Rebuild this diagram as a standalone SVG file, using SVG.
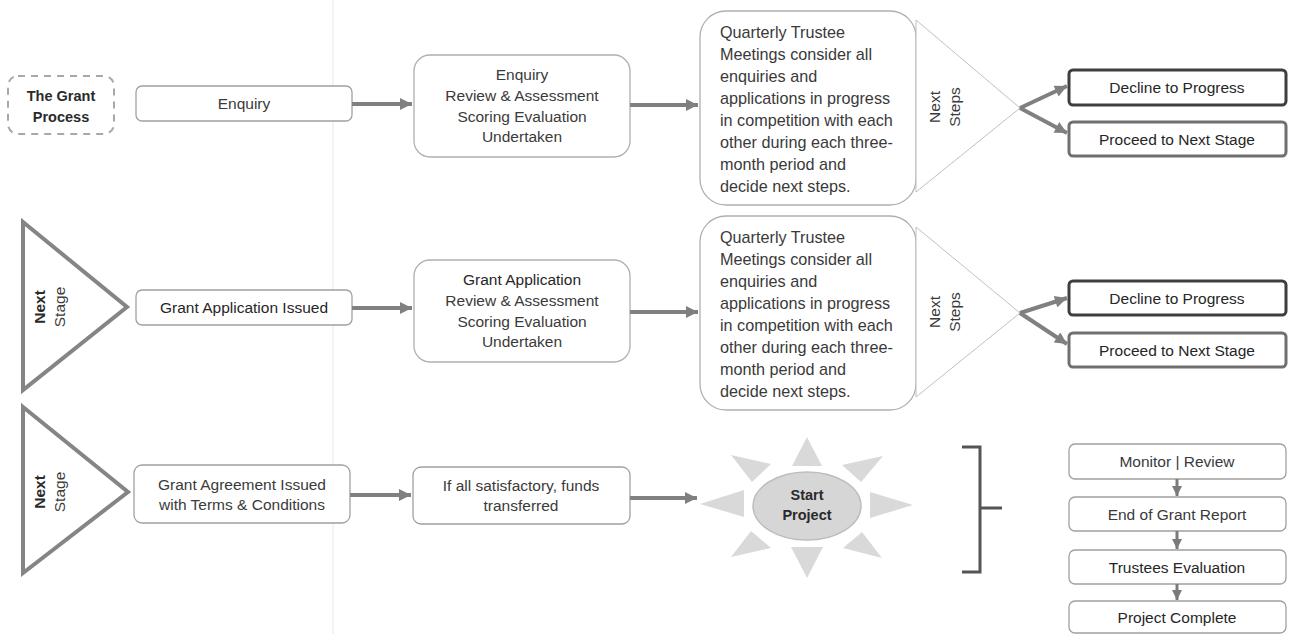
<svg xmlns="http://www.w3.org/2000/svg" width="1295" height="634" viewBox="0 0 1295 634">
<defs>
<marker id="ah" viewBox="0 0 10 10" refX="10" refY="5" markerWidth="13" markerHeight="12" markerUnits="userSpaceOnUse" orient="auto"><path d="M0,0 L10,5 L0,10 z" fill="#808080"/></marker>
<marker id="ahs" viewBox="0 0 10 10" refX="10" refY="5" markerWidth="10" markerHeight="10" markerUnits="userSpaceOnUse" orient="auto"><path d="M0,0 L10,5 L0,10 z" fill="#7a7a7a"/></marker>
</defs>
<style>
text{font-family:"Liberation Sans",Arial,sans-serif;font-size:15.5px;fill:#3a3a3a}
.c{text-anchor:middle}
.b{font-weight:bold;fill:#2a2a2a}
.t{font-size:14.5px}
.q{font-size:16.2px}
.d{fill:#262626}
.box{fill:#fff;stroke:#a0a0a0;stroke-width:1.3}
.big{fill:#fff;stroke:#b0b0b0;stroke-width:1.3}
.dash{fill:#fff;stroke:#a8a8a8;stroke-width:2;stroke-dasharray:7 6}
.ltri{fill:#fff;stroke:#858585;stroke-width:4;stroke-linejoin:miter}
.rtri{fill:#fff;stroke:#c0c0c0;stroke-width:1}
.dec{fill:#fff;stroke:#3e3e3e;stroke-width:3}
.pro{fill:#fff;stroke:#707070;stroke-width:3}
.con{stroke:#808080;stroke-width:4;fill:none;marker-end:url(#ah)}
.sm{stroke:#7a7a7a;stroke-width:3;fill:none;marker-end:url(#ahs)}
.ray{fill:#d9d9d9;stroke:none}
</style>
<rect width="1295" height="634" fill="#fff"/>
<line x1="333" y1="0" x2="333" y2="634" stroke="#f3f3f3" stroke-width="2"/>

<!-- Row 1 -->
<g id="grant-process"><rect class="dash" x="8" y="76" width="106" height="58" rx="10"/><text class="c b t" x="61" y="101">The Grant</text><text class="c b t" x="61" y="122">Process</text></g>
<g id="enquiry"><rect class="box" x="136" y="86" width="216" height="35" rx="6"/><text class="c" x="244" y="109">Enquiry</text></g>
<g id="review1"><rect class="big" x="414" y="55" width="216" height="102" rx="16"/><text class="c" x="522" y="80">Enquiry</text><text class="c" x="522" y="101">Review &amp; Assessment</text><text class="c" x="522" y="122">Scoring Evaluation</text><text class="c" x="522" y="142">Undertaken</text></g>
<g id="quarterly1"><rect class="big" x="700" y="11" width="216" height="194" rx="26"/>
<text class="q" x="720" y="38">Quarterly Trustee</text><text class="q" x="720" y="60">Meetings consider all</text><text class="q" x="720" y="82">enquiries and</text><text class="q" x="720" y="104">applications in progress</text><text class="q" x="720" y="126">in competition with each</text><text class="q" x="720" y="148">other during each three-</text><text class="q" x="720" y="170">month period and</text><text class="q" x="720" y="192">decide next steps.</text></g>
<g id="nextsteps1"><polygon class="rtri" points="916,20 1020,108 916,192"/><text class="c" transform="translate(945,107) rotate(-90)"><tspan x="0" y="-5">Next</tspan><tspan x="0" y="15">Steps</tspan></text></g>
<g id="decline1"><rect class="dec" x="1069" y="70" width="217" height="35" rx="4"/><text class="c d" x="1177" y="93">Decline to Progress</text></g>
<g id="proceed1"><rect class="pro" x="1069" y="122" width="217" height="34" rx="4"/><text class="c d" x="1177" y="145">Proceed to Next Stage</text></g>

<!-- Row 2 -->
<g id="nextstage2"><polygon class="ltri" points="23,222 127,307 23,390"/><text class="c" transform="translate(50,307) rotate(-90)"><tspan class="b" x="0" y="-5">Next</tspan><tspan x="0" y="15">Stage</tspan></text></g>
<g id="application"><rect class="box" x="136" y="290" width="216" height="35" rx="6"/><text class="c d" x="244" y="313">Grant Application Issued</text></g>
<g id="review2"><rect class="big" x="414" y="260" width="216" height="102" rx="16"/><text class="c d" x="522" y="285">Grant Application</text><text class="c" x="522" y="306">Review &amp; Assessment</text><text class="c" x="522" y="327">Scoring Evaluation</text><text class="c" x="522" y="347">Undertaken</text></g>
<g id="quarterly2"><rect class="big" x="700" y="216" width="216" height="194" rx="26"/>
<text class="q" x="720" y="243">Quarterly Trustee</text><text class="q" x="720" y="265">Meetings consider all</text><text class="q" x="720" y="287">enquiries and</text><text class="q" x="720" y="309">applications in progress</text><text class="q" x="720" y="331">in competition with each</text><text class="q" x="720" y="353">other during each three-</text><text class="q" x="720" y="375">month period and</text><text class="q" x="720" y="397">decide next steps.</text></g>
<g id="nextsteps2"><polygon class="rtri" points="916,227 1020,313 916,397"/><text class="c" transform="translate(945,312) rotate(-90)"><tspan x="0" y="-5">Next</tspan><tspan x="0" y="15">Steps</tspan></text></g>
<g id="decline2"><rect class="dec" x="1069" y="281" width="217" height="34" rx="4"/><text class="c d" x="1177" y="304">Decline to Progress</text></g>
<g id="proceed2"><rect class="pro" x="1069" y="333" width="217" height="34" rx="4"/><text class="c d" x="1177" y="356">Proceed to Next Stage</text></g>

<!-- Row 3 -->
<g id="nextstage3"><polygon class="ltri" points="23,407 128,492 23,573"/><text class="c" transform="translate(50,492) rotate(-90)"><tspan class="b" x="0" y="-5">Next</tspan><tspan x="0" y="15">Stage</tspan></text></g>
<g id="agreement"><rect class="box" x="134" y="465" width="216" height="58" rx="8"/><text class="c" x="242" y="490">Grant Agreement Issued</text><text class="c" x="242" y="510">with Terms &amp; Conditions</text></g>
<g id="funds"><rect class="box" x="413" y="467" width="217" height="57" rx="8"/><text class="c" x="521" y="491">If all satisfactory, funds</text><text class="c" x="521" y="511">transferred</text></g>
<g id="start-project">
<polygon class="ray" points="807,437 792,466 822,466"/>
<polygon class="ray" points="807,578 791,547 823,547"/>
<polygon class="ray" points="700,504 744,490 744,517"/>
<polygon class="ray" points="913,505 870,492 870,518"/>
<polygon class="ray" points="731,455 752,482 771,464"/>
<polygon class="ray" points="883,456 842,465 861,482"/>
<polygon class="ray" points="731,557 751,531 771,548"/>
<polygon class="ray" points="882,558 843,548 862,532"/>
<ellipse cx="807" cy="506" rx="54" ry="34" fill="#d6d6d6" stroke="#bdbdbd" stroke-width="1.5"/>
<text class="c b t" x="807" y="500">Start</text><text class="c b t" x="807" y="520">Project</text></g>
<g id="bracket"><path d="M962,447 H980 V572 H962 M980,508 H1002" fill="none" stroke="#555" stroke-width="3"/></g>
<g id="monitor"><rect class="box" x="1069" y="444" width="217" height="35" rx="6"/><text class="c" x="1177" y="467">Monitor | Review</text></g>
<g id="endreport"><rect class="box" x="1069" y="497" width="217" height="34" rx="6"/><text class="c" x="1177" y="520">End of Grant Report</text></g>
<g id="trustees"><rect class="box" x="1069" y="550" width="217" height="34" rx="6"/><text class="c d" x="1177" y="573">Trustees Evaluation</text></g>
<g id="complete"><rect class="box" x="1069" y="601" width="217" height="32" rx="6"/><text class="c d" x="1177" y="623">Project Complete</text></g>

<g id="connectors">
<line class="con" x1="352" y1="104" x2="412" y2="104"/>
<line class="con" x1="630" y1="105" x2="698" y2="105"/>
<line class="con" x1="1020" y1="108" x2="1067" y2="86"/>
<line class="con" x1="1020" y1="108" x2="1067" y2="133"/>
<line class="con" x1="352" y1="308" x2="412" y2="308"/>
<line class="con" x1="630" y1="312" x2="698" y2="312"/>
<line class="con" x1="1020" y1="313" x2="1067" y2="298"/>
<line class="con" x1="1020" y1="313" x2="1067" y2="344"/>
<line class="con" x1="350" y1="495" x2="411" y2="495"/>
<line class="con" x1="630" y1="498" x2="697" y2="498"/>
<line class="sm" x1="1177" y1="479" x2="1177" y2="496"/>
<line class="sm" x1="1177" y1="531" x2="1177" y2="549"/>
<line class="sm" x1="1177" y1="584" x2="1177" y2="600"/>
</g>
</svg>
